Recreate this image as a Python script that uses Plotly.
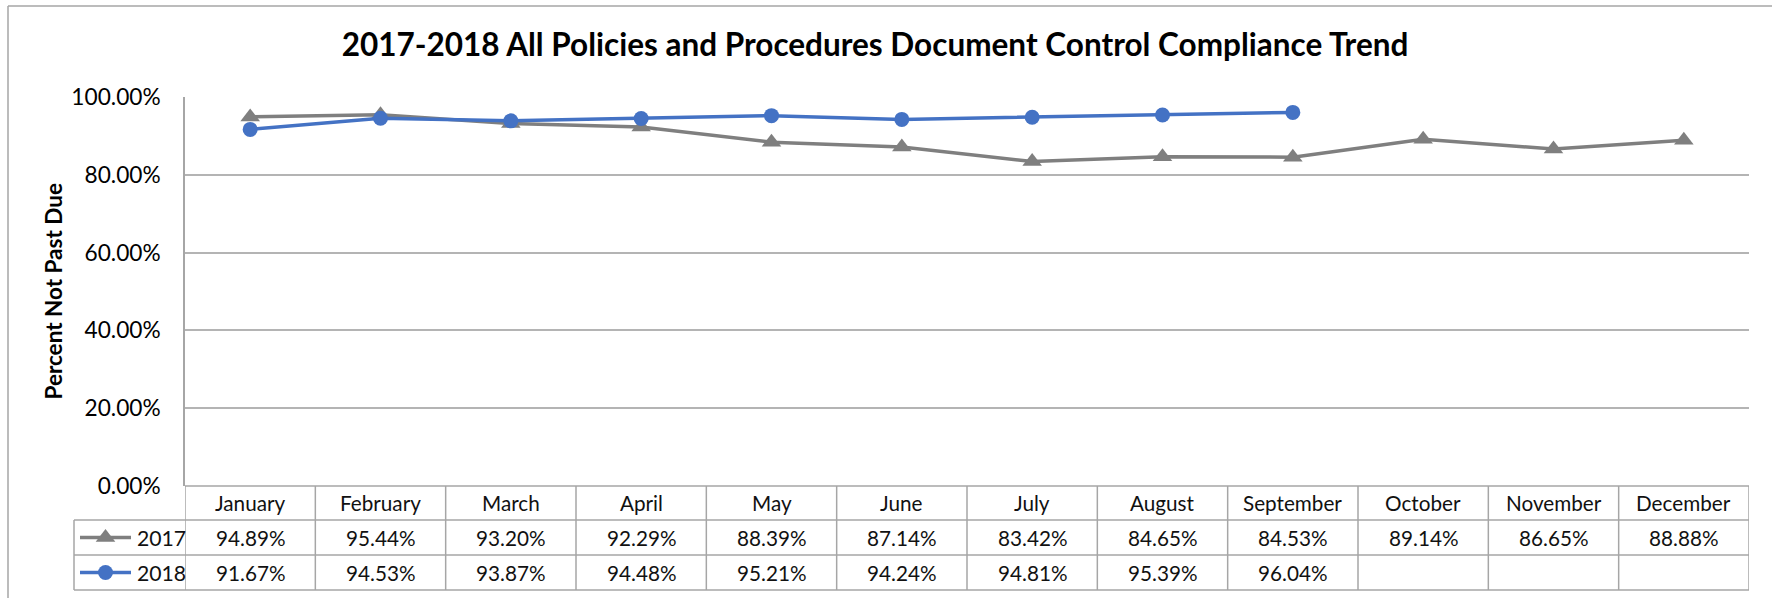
import plotly.graph_objects as go

months = ["January", "February", "March", "April", "May", "June",
          "July", "August", "September", "October", "November", "December"]
y2017 = [0.9489, 0.9544, 0.9320, 0.9229, 0.8839, 0.8714,
         0.8342, 0.8465, 0.8453, 0.8914, 0.8665, 0.8888]
y2018 = [0.9167, 0.9453, 0.9387, 0.9448, 0.9521, 0.9424,
         0.9481, 0.9539, 0.9604]
series_names = ["2017", "2018"]
title_text = "2017-2018 All Policies and Procedures Document Control Compliance Trend"
y_title = "Percent Not Past Due"

W, H = 1772, 598
L, R, T, B = 185, 1749, 97, 486          # plot area (pixels)
ROWS = [B, 520, 555, 590]                 # table row edges (pixels)
KEY_L, KEY_R, TBL_L = 80, 131, 74         # legend-key column
FONT = "Lato"
GRID = "#b4b4b4"
TBL = "#a6a6a6"
C17 = "#7f7f7f"
C18 = "#4472c4"
TXT = 20.7


def px(p):
    return p / W


def py(p):
    return 1 - p / H


row_centers = [(ROWS[i] + ROWS[i + 1]) / 2 for i in range(3)]

fig = go.Figure()
fig.add_trace(go.Scatter(x=list(range(len(y2017))), y=y2017, name=series_names[0],
                         mode="lines+markers", line=dict(color=C17, width=3.5),
                         marker=dict(symbol="triangle-up", size=17, color=C17),
                         cliponaxis=False, showlegend=False))
fig.add_trace(go.Scatter(x=list(range(len(y2018))), y=y2018, name=series_names[1],
                         mode="lines+markers", line=dict(color=C18, width=3.5),
                         marker=dict(symbol="circle", size=15, color=C18),
                         cliponaxis=False, showlegend=False))

# legend keys inside the data table (own small axes)
for name, col, sym, sz, rc in [(series_names[0], C17, "triangle-up", 17, row_centers[1]),
                               (series_names[1], C18, "circle", 15, row_centers[2])]:
    fig.add_trace(go.Scatter(x=[0, 1], y=[rc, rc], mode="lines", xaxis="x2", yaxis="y2",
                             line=dict(color=col, width=3.5), showlegend=False,
                             hoverinfo="skip"))
    fig.add_trace(go.Scatter(x=[0.5], y=[rc], mode="markers", xaxis="x2", yaxis="y2",
                             marker=dict(symbol=sym, size=sz, color=col), showlegend=False,
                             hoverinfo="skip", name=name))

shapes = []
line_style = dict(color=TBL, width=1.5)
# horizontal table lines
shapes.append(dict(type="line", xref="x", yref="paper", x0=-0.5, x1=11.5,
                   y0=py(ROWS[0]), y1=py(ROWS[0]), line=line_style))
for e in ROWS[1:]:
    shapes.append(dict(type="line", xref="paper", yref="paper", x0=px(TBL_L), x1=px(R),
                       y0=py(e), y1=py(e), line=line_style))
# vertical table lines
for k in range(len(months) + 1):
    shapes.append(dict(type="line", xref="x", yref="paper", x0=k - 0.5, x1=k - 0.5,
                       y0=py(ROWS[0]), y1=py(ROWS[-1]), line=line_style))
shapes.append(dict(type="line", xref="paper", yref="paper", x0=px(TBL_L), x1=px(TBL_L),
                   y0=py(ROWS[1]), y1=py(ROWS[-1]), line=line_style))
# outer chart border
shapes.append(dict(type="line", xref="paper", yref="paper", x0=px(8), x1=px(W + 5),
                   y0=py(6), y1=py(6), line=dict(color="#a6a6a6", width=1.5)))
shapes.append(dict(type="line", xref="paper", yref="paper", x0=px(8), x1=px(8),
                   y0=py(6), y1=py(H + 5), line=dict(color="#a6a6a6", width=1.5)))

annotations = []
for i, m in enumerate(months):
    annotations.append(dict(x=i, y=py(row_centers[0]), xref="x", yref="paper",
                            xanchor="center", yanchor="middle",
                            text=m, showarrow=False, font=dict(size=TXT, color="#111")))
for vals, rc in [(y2017, row_centers[1]), (y2018, row_centers[2])]:
    for i, v in enumerate(vals):
        annotations.append(dict(x=i, y=py(rc), xref="x", yref="paper",
                                xanchor="center", yanchor="middle",
                                text=f"{v*100:.2f}%", showarrow=False,
                                font=dict(size=TXT, color="#111")))
for name, rc in zip(series_names, row_centers[1:]):
    annotations.append(dict(x=px(135), y=py(rc), xref="paper", yref="paper",
                            xanchor="left", yanchor="middle", text=name, showarrow=False,
                            font=dict(size=TXT + 0.5, color="#111")))
annotations.append(dict(x=px(53), y=py((T + B) / 2), xref="paper", yref="paper",
                        xanchor="center", yanchor="middle",
                        text=f"<b>{y_title}</b>", textangle=-90, showarrow=False,
                        font=dict(size=22.5, color="#000")))

fig.update_layout(
    template="none",
    width=W, height=H,
    margin=dict(l=0, r=0, t=0, b=0, pad=0),
    paper_bgcolor="white", plot_bgcolor="white",
    font=dict(family=FONT, color="#111"),
    title=dict(text=f"<b>{title_text}</b>", x=875 / W, xanchor="center", xref="container",
               y=1 - 45 / H, yanchor="middle", yref="container",
               font=dict(size=31.5, color="#000", family=FONT)),
    xaxis=dict(domain=[px(L), px(R)], range=[-0.5, 11.5], showticklabels=False,
               showgrid=False, zeroline=False, showline=False, fixedrange=True,
               automargin=False, ticks=""),
    yaxis=dict(domain=[py(B), py(T)], range=[0, 1], dtick=0.2, tickformat=".2%",
               showgrid=True, gridcolor=GRID, gridwidth=1.5, zeroline=False,
               showline=True, linecolor=TBL, linewidth=1.5, ticks="",
               ticklabelstandoff=18, tickfont=dict(size=22.7, color="#000"),
               fixedrange=True, automargin=False),
    xaxis2=dict(domain=[px(KEY_L), px(KEY_R)], range=[0, 1], anchor="y2", visible=False,
                fixedrange=True),
    yaxis2=dict(domain=[py(ROWS[-1]), py(ROWS[1])], range=[ROWS[-1], ROWS[1]],
                anchor="x2", visible=False, fixedrange=True),
    shapes=shapes, annotations=annotations,
    showlegend=False,
)

fig.write_html("out.html", config={"displayModeBar": False},
               post_script="document.body.style.margin='0';document.body.style.overflow='hidden';")
